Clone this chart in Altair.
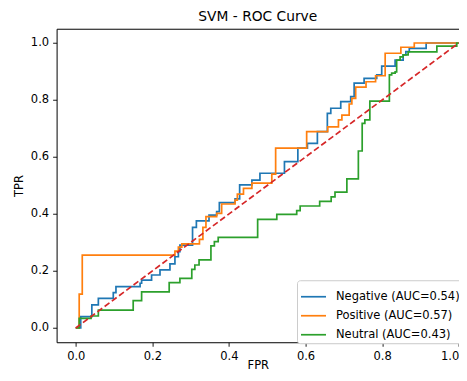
import altair as alt
import pandas as pd

labels = ["Negative (AUC=0.54)", "Positive (AUC=0.57)", "Neutral (AUC=0.43)"]
colors = ["#1f77b4", "#ff7f0e", "#2ca02c"]
ticks = [0.0, 0.2, 0.4, 0.6, 0.8, 1.0]

neg_fpr = [0, 0.013, 0.013, 0.042, 0.042, 0.059, 0.059, 0.098, 0.098, 0.105, 0.105, 0.168, 0.168, 0.172, 0.172,
           0.198, 0.198, 0.220, 0.220, 0.246, 0.246, 0.259, 0.259, 0.268, 0.268, 0.272, 0.272, 0.305, 0.305,
           0.315, 0.315, 0.348, 0.348, 0.368, 0.368, 0.375, 0.375, 0.416, 0.416, 0.428, 0.428, 0.460, 0.460,
           0.481, 0.481, 0.545, 0.545, 0.580, 0.580, 0.605, 0.605, 0.631, 0.631, 0.657, 0.657, 0.666, 0.666,
           0.692, 0.692, 0.718, 0.718, 0.727, 0.727, 0.753, 0.753, 0.786, 0.786, 0.799, 0.799, 0.834, 0.834,
           0.855, 0.855, 0.862, 0.862, 0.871, 0.871, 0.915, 0.915, 1.0]
neg_tpr = [0, 0, 0.040, 0.040, 0.081, 0.081, 0.104, 0.104, 0.124, 0.124, 0.145, 0.145, 0.157, 0.157, 0.168,
           0.168, 0.186, 0.186, 0.204, 0.204, 0.225, 0.225, 0.250, 0.250, 0.268, 0.268, 0.291, 0.291, 0.353,
           0.353, 0.376, 0.376, 0.396, 0.396, 0.408, 0.408, 0.440, 0.440, 0.453, 0.453, 0.502, 0.502, 0.519,
           0.519, 0.543, 0.543, 0.584, 0.584, 0.631, 0.631, 0.648, 0.648, 0.689, 0.689, 0.753, 0.753, 0.771,
           0.771, 0.794, 0.794, 0.812, 0.812, 0.859, 0.859, 0.876, 0.876, 0.888, 0.888, 0.919, 0.919, 0.940,
           0.940, 0.958, 0.958, 0.970, 0.970, 0.981, 0.981, 1.0, 1.0]

pos_fpr = [0, 0.009, 0.009, 0.017, 0.017, 0.259, 0.259, 0.268, 0.268, 0.277, 0.277, 0.323, 0.323, 0.332, 0.332,
           0.340, 0.340, 0.368, 0.368, 0.381, 0.381, 0.416, 0.416, 0.422, 0.422, 0.438, 0.438, 0.460, 0.460,
           0.512, 0.512, 0.522, 0.522, 0.603, 0.603, 0.658, 0.658, 0.686, 0.686, 0.695, 0.695, 0.714, 0.714,
           0.721, 0.721, 0.731, 0.731, 0.758, 0.758, 0.783, 0.783, 0.808, 0.808, 0.849, 0.849, 0.884, 0.884, 1.0]
pos_tpr = [0, 0, 0.119, 0.119, 0.256, 0.256, 0.270, 0.270, 0.284, 0.284, 0.295, 0.295, 0.311, 0.311, 0.353,
           0.353, 0.391, 0.391, 0.402, 0.402, 0.435, 0.435, 0.449, 0.449, 0.470, 0.470, 0.490, 0.490, 0.508,
           0.508, 0.540, 0.540, 0.631, 0.631, 0.689, 0.689, 0.706, 0.706, 0.730, 0.730, 0.747, 0.747, 0.786,
           0.786, 0.806, 0.806, 0.845, 0.845, 0.864, 0.864, 0.885, 0.885, 0.964, 0.964, 0.985, 0.985, 1.0, 1.0]

neu_fpr = [0, 0.009, 0.009, 0.040, 0.040, 0.059, 0.059, 0.150, 0.150, 0.172, 0.172, 0.244, 0.244, 0.272, 0.272,
           0.303, 0.303, 0.311, 0.311, 0.322, 0.322, 0.353, 0.353, 0.362, 0.362, 0.372, 0.372, 0.475, 0.475,
           0.525, 0.525, 0.577, 0.577, 0.586, 0.586, 0.637, 0.637, 0.667, 0.667, 0.677, 0.677, 0.708, 0.708,
           0.738, 0.738, 0.748, 0.748, 0.755, 0.755, 0.768, 0.768, 0.819, 0.819, 0.825, 0.825, 0.834, 0.834,
           0.838, 0.838, 0.847, 0.847, 0.855, 0.855, 0.868, 0.868, 0.943, 0.943, 0.995, 0.995, 1.0]
neu_tpr = [0, 0, 0.034, 0.034, 0.042, 0.042, 0.063, 0.063, 0.096, 0.096, 0.127, 0.127, 0.159, 0.159, 0.174,
           0.174, 0.206, 0.206, 0.221, 0.221, 0.239, 0.239, 0.288, 0.288, 0.303, 0.303, 0.318, 0.318, 0.381,
           0.381, 0.399, 0.399, 0.412, 0.412, 0.428, 0.428, 0.444, 0.444, 0.460, 0.460, 0.477, 0.477, 0.523,
           0.523, 0.621, 0.621, 0.718, 0.718, 0.730, 0.730, 0.796, 0.796, 0.888, 0.888, 0.894, 0.894, 0.899,
           0.899, 0.940, 0.940, 0.951, 0.951, 0.958, 0.958, 0.969, 0.969, 0.989, 0.989, 1.0, 1.0]

diag_fpr = [0.0, 1.0]
diag_tpr = [0.0, 1.0]

rows = []
for lab, fx, ty in zip(labels, [neg_fpr, pos_fpr, neu_fpr], [neg_tpr, pos_tpr, neu_tpr]):
    for i, (a, b) in enumerate(zip(fx, ty)):
        rows.append({"label": lab, "fpr": a, "tpr": b, "idx": i})
df = pd.DataFrame(rows)
diag_df = pd.DataFrame({"fpr": diag_fpr, "tpr": diag_tpr, "idx": [0, 1]})

FONT = "DejaVu Sans"
XDOM = [-0.05, 1.0008]
YDOM = [-0.05, 1.05]

yenc = alt.Y("tpr:Q", scale=alt.Scale(domain=YDOM, nice=False, zero=False),
             axis=alt.Axis(values=ticks, format=".1f", title="TPR", titlePadding=6))
cenc = alt.Color("label:N", scale=alt.Scale(domain=labels, range=colors),
                 legend=alt.Legend(title=None, orient="none", legendX=240.4, legendY=251.5,
                                   symbolType="stroke", symbolSize=625, symbolStrokeWidth=1.7,
                                   labelFontSize=11.5, labelFont=FONT, labelColor="black",
                                   labelOffset=9, padding=3, rowPadding=0,
                                   strokeColor="#cccccc", fillColor="white", cornerRadius=3))

curves = alt.Chart(df).mark_line(strokeWidth=1.7).encode(
    x=alt.X("fpr:Q", scale=alt.Scale(domain=XDOM, nice=False, zero=False),
            axis=alt.Axis(values=ticks, format=".1f", title="FPR", titleY=26,
                          titleBaseline="alphabetic")),
    y=yenc, color=cenc, order="idx:Q")

diag = alt.Chart(diag_df).mark_line(strokeWidth=1.7, strokeDash=[6, 3], color="#d62728").encode(
    x=alt.X("fpr:Q", scale=alt.Scale(domain=XDOM, nice=False, zero=False),
            axis=alt.Axis(orient="top", labels=False, ticks=False, title=None, domain=True)),
    y=yenc, order="idx:Q")

chart = alt.layer(curves, diag).resolve_axis(x="independent").properties(
    width=402.4, height=313.5,
    title=alt.Title("SVM - ROC Curve", fontSize=13.8, font=FONT, fontWeight="normal", color="black", offset=5),
    autosize=alt.AutoSizeParams(type="none"),
    padding={"left": 48.6, "top": 20.75, "right": 0, "bottom": 30.7},
).configure_view(strokeWidth=0).configure_axis(
    grid=False, domain=True, domainColor="black", domainWidth=1, tickSize=4, tickWidth=0.9, tickColor="black",
    labelPadding=4, labelFontSize=11.5, labelFont=FONT, labelColor="black",
    titleFontSize=11.5, titleFont=FONT, titleFontWeight="normal", titleColor="black",
)

chart.save("out.html", embed_options={"renderer": "svg", "actions": False})
